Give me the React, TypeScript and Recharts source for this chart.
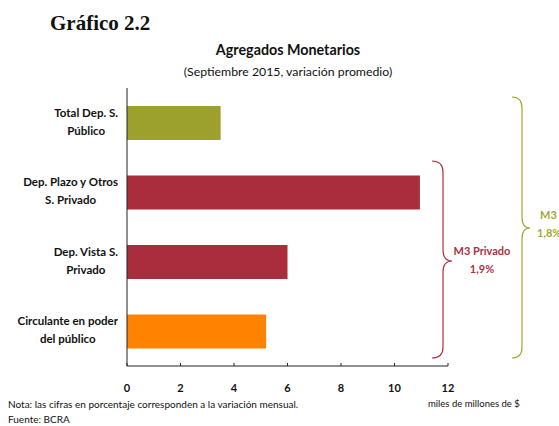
import React from 'react';
import { BarChart, Bar, XAxis, YAxis, Cell } from 'recharts';

const categories = [
  ['Total Dep. S.', 'Público'],
  ['Dep. Plazo y Otros', 'S. Privado'],
  ['Dep. Vista S.', 'Privado'],
  ['Circulante en poder', 'del público'],
];
const values = [3.5, 10.95, 6.0, 5.2];
const barColors = ['#9CA02D', '#A92D3D', '#A92D3D', '#FF8300'];
const xTicks = [0, 2, 4, 6, 8, 10, 12];

const data = categories.map((c, i) => ({ name: c.join('|'), value: values[i], color: barColors[i] }));

const FONT = 'Lato, "Open Sans", sans-serif';

const YTick = (props: any) => {
  const { y, payload } = props;
  const lines = String(payload.value).split('|');
  return (
    <foreignObject x={0} y={y - 21} width={118} height={40}>
      <div style={{ display: 'flex', justifyContent: 'flex-end', alignItems: 'center', height: 40 }}>
        <div style={{ textAlign: 'center', fontFamily: FONT, fontWeight: 700, fontSize: 11.5, lineHeight: '18px', color: '#111', whiteSpace: 'nowrap' }}>
          {lines.map((l, i) => (
            <div key={i}>{l}</div>
          ))}
        </div>
      </div>
    </foreignObject>
  );
};

const XTick = (props: any) => {
  const { x, y, payload } = props;
  return (
    <g>
      <line x1={x} x2={x} y1={y} y2={y - 3} stroke="#222" strokeWidth={1} />
      <text x={x} y={y + 26} textAnchor="middle" fontFamily={FONT} fontWeight={700} fontSize={11} fill="#111">
        {payload.value}
      </text>
    </g>
  );
};

export default function App() {
  return (
    <div style={{ position: 'absolute', left: 0, top: 0, width: 559, height: 426, background: '#fff' }}>
      <BarChart
        width={559}
        height={426}
        data={data}
        layout="vertical"
        margin={{ top: 88, right: 111, bottom: 0, left: 7 }}
        barCategoryGap="25%"
      >
        <XAxis
          type="number"
          domain={[0, 12]}
          ticks={xTicks}
          interval={0}
          height={60}
          tickSize={0}
          tickMargin={0}
          tickLine={false}
          axisLine={{ stroke: '#222', strokeWidth: 1 }}
          tick={<XTick />}
        />
        <YAxis
          type="category"
          dataKey="name"
          width={120}
          tickLine={false}
          axisLine={{ stroke: '#222', strokeWidth: 1 }}
          tick={<YTick />}
          interval={0}
        />
        <Bar dataKey="value" isAnimationActive={false} barSize={34}>
          {data.map((d, i) => (
            <Cell key={i} fill={d.color} />
          ))}
        </Bar>
      </BarChart>
      <svg width={559} height={426} style={{ position: 'absolute', left: 0, top: 0, pointerEvents: 'none' }}>
        <text x={50} y={30} fontFamily='"Liberation Serif", "Times New Roman", serif' fontWeight={700} fontSize={21} fill="#111">
          Gráfico 2.2
        </text>
        <text x={288} y={55} textAnchor="middle" fontFamily={FONT} fontWeight={700} fontSize={14.3} fill="#111">
          Agregados Monetarios
        </text>
        <text x={288} y={76} textAnchor="middle" fontFamily={FONT} fontSize={12.3} fill="#111">
          (Septiembre 2015, variación promedio)
        </text>
        <path
          d="M432,161 Q443,161 443,172 L443,250 Q443,261 452,261 Q443,261 443,272 L443,347 Q443,358 432,358"
          fill="none"
          stroke="#B03040"
          strokeWidth={1.2}
        />
        <path
          d="M512,97 Q522,97 522,108 L522,217 Q522,228 530,228 Q522,228 522,239 L522,347 Q522,358 512,358"
          fill="none"
          stroke="#A4A832"
          strokeWidth={1.2}
        />
        <text x={482} y={255} textAnchor="middle" fontFamily={FONT} fontWeight={700} fontSize={11} fill="#B03040">
          M3 Privado
        </text>
        <text x={482} y={273} textAnchor="middle" fontFamily={FONT} fontWeight={700} fontSize={11} fill="#B03040">
          1,9%
        </text>
        <text x={540} y={219} fontFamily={FONT} fontWeight={700} fontSize={11} fill="#A4A832">
          M3
        </text>
        <text x={537} y={237} fontFamily={FONT} fontWeight={700} fontSize={11} fill="#A4A832">
          1,8%
        </text>
        <text x={8} y={408} fontFamily={FONT} fontSize={10} fill="#111">
          Nota: las cifras en porcentaje corresponden a la variación mensual.
        </text>
        <text x={8} y={423} fontFamily={FONT} fontSize={10} fill="#111">
          Fuente: BCRA
        </text>
        <text x={428} y={407} fontFamily={FONT} fontSize={9.5} fill="#111">
          miles de millones de $
        </text>
      </svg>
    </div>
  );
}
